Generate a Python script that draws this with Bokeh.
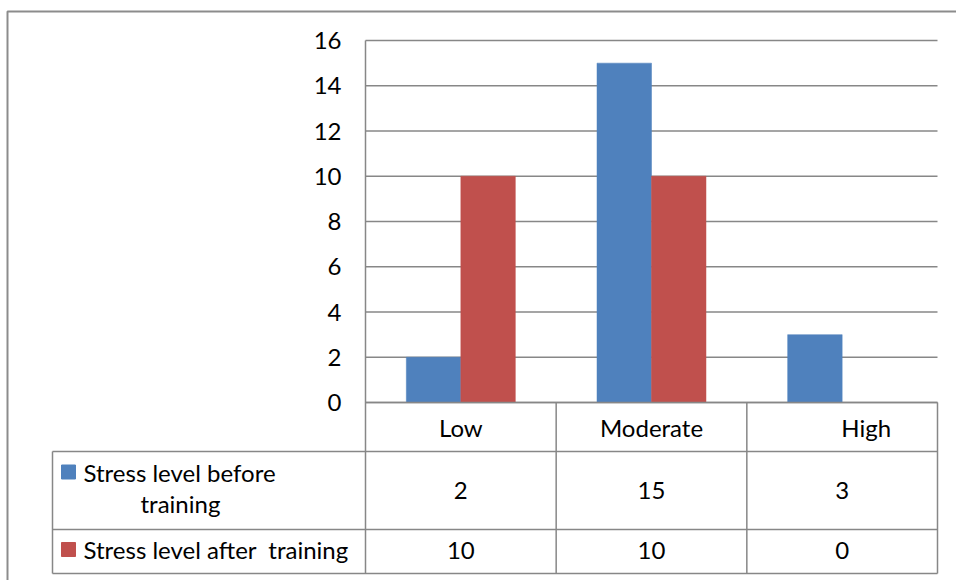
from bokeh.plotting import figure
from bokeh.models import Range1d, ColumnDataSource
from bokeh.core.properties import value
from bokeh.embed import file_html
from bokeh.resources import INLINE

# ---- data ----
categories = ["Low", "Moderate", "High"]
before = [2, 15, 3]
after = [10, 10, 0]
series_names = ["Stress level before training", "Stress level after  training"]
y_ticks = [0, 2, 4, 6, 8, 10, 12, 14, 16]

# ---- layout constants (pixels of the 956x580 canvas) ----
W, H = 956, 580
X0, X3 = 365, 937          # plot area left / right
Y0, Y16 = 402, 40          # y pixel of value 0 and 16
CW = (X3 - X0) / 3.0       # px per category
PY = (Y0 - Y16) / 16.0     # px per value unit

def xd(px):
    return (px - X0) / CW

def yd(px):
    return (Y0 - px) / PY

FONT = value("Lato")
FS = "24px"
GRID = "#878787"
BLUE = "#4F81BD"
RED = "#C0504D"

p = figure(width=W, height=H, output_backend="svg", toolbar_location=None,
           x_range=Range1d(xd(0), xd(W)), y_range=Range1d(yd(H), yd(0)),
           min_border=0, min_border_left=0, min_border_right=0,
           min_border_top=0, min_border_bottom=0)
p.axis.visible = False
p.grid.visible = False
p.outline_line_color = None
p.background_fill_color = "white"
p.border_fill_color = "white"

n = len(categories)
centers = [i + 0.5 for i in range(n)]
bw = 54.5 / CW

# outer border
p.line([xd(7), xd(7), xd(W)], [yd(H), yd(11), yd(11)], line_color="#8c8c8c", line_width=2)

# gridlines
p.segment(x0=[0] * len(y_ticks), x1=[n] * len(y_ticks), y0=y_ticks, y1=y_ticks,
          line_color=GRID, line_width=1.5)

# bars
p.vbar(x=[c - bw / 2 for c in centers], top=before, bottom=0, width=bw,
       fill_color=BLUE, line_color=BLUE, line_width=0.5)
p.vbar(x=[c + bw / 2 for c in centers], top=after, bottom=0, width=bw,
       fill_color=RED, line_color=RED, line_width=0.5)

# table lines
r1, r2, r3 = yd(451), yd(529), yd(573)
xl = xd(52)
hx0 = [0, xl, xl, xl]
hx1 = [n, n, n, n]
hy = [0, r1, r2, r3]
p.segment(x0=hx0, x1=hx1, y0=hy, y1=hy, line_color=GRID, line_width=1.5)
vx = [xl, 0] + [i + 1 for i in range(n)]
vy0 = [r1, 16] + [0] * n
vy1 = [r3] * (n + 2)
p.segment(x0=vx, x1=vx, y0=vy0, y1=vy1, line_color=GRID, line_width=1.5)

def txt(x, y, t, align="center"):
    p.text(x=x, y=y, text=t, text_font=FONT, text_font_size=FS, text_align=align,
           text_baseline="middle", text_color="black")

# y tick labels
txt([xd(341)] * len(y_ticks), y_ticks, [str(t) for t in y_ticks], "right")

# category labels
cat_off = [0, 0, 24 / CW]
txt([c + o for c, o in zip(centers, cat_off)], [yd(427)] * n, categories)

# values
txt(centers, [yd(490)] * n, [str(v) for v in before])
txt(centers, [yd(550)] * n, [str(v) for v in after])

# legend keys
ks = 14
p.rect(x=[xd(68), xd(68)], y=[yd(471.5), yd(549)], width=ks / CW, height=ks / PY,
       fill_color=[BLUE, RED], line_color=[BLUE, RED])

# legend labels
first = series_names[0].rsplit(" ", 1)
txt([xd(83)], [yd(472)], [first[0]], "left")
txt([xd(140)], [yd(503)], [first[1]], "left")
txt([xd(83)], [yd(549)], [series_names[1].replace("  ", " \u00a0")], "left")

open("out.html", "w").write(file_html(p, INLINE))
